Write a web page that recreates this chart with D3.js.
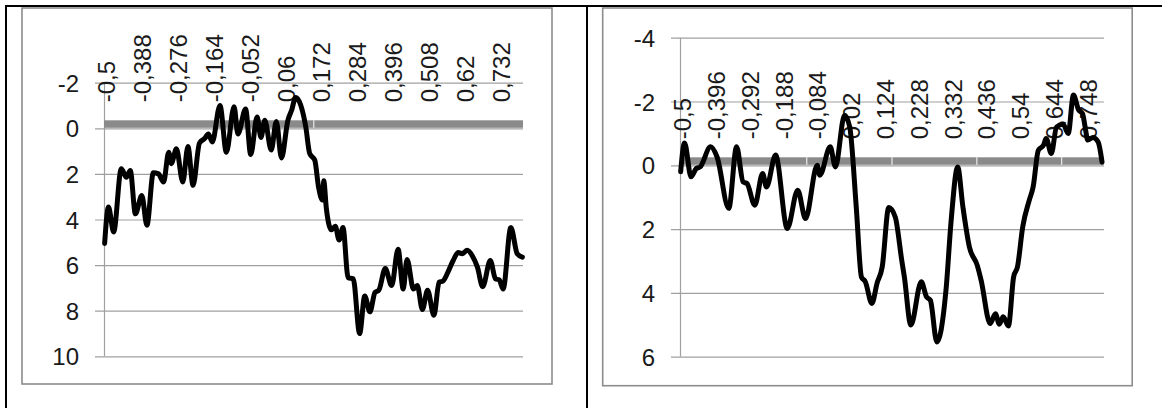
<!DOCTYPE html>
<html>
<head>
<meta charset="utf-8">
<script src="https://cdn.jsdelivr.net/npm/d3@7"></script>
<style>
  html, body { margin: 0; padding: 0; background: #fff; }
  svg { display: block; }
  text { font-family: "Liberation Sans", Arial, sans-serif; fill: #1a1a1a; }
</style>
</head>
<body>
<svg id="chart" width="1162" height="408"></svg>
<script>
// ---- Left series ----
const leftX = [-0.5, -0.488, -0.472, -0.448, -0.432, -0.42, -0.404, -0.384, -0.368, -0.348,
  -0.332, -0.316, -0.3, -0.292, -0.276, -0.256, -0.24, -0.224, -0.204, -0.188,
  -0.176, -0.164, -0.14, -0.12, -0.096, -0.084, -0.06, -0.044, -0.024, -0.012,
  0.0, 0.02, 0.036, 0.052, 0.072, 0.084, 0.096, 0.128, 0.14, 0.156,
  0.168, 0.18, 0.184, 0.192, 0.208, 0.22, 0.232, 0.244, 0.26, 0.276,
  0.296, 0.312, 0.328, 0.344, 0.356, 0.376, 0.396, 0.416, 0.432, 0.444,
  0.464, 0.476, 0.492, 0.508, 0.528, 0.544, 0.556, 0.572, 0.588, 0.604,
  0.616, 0.632, 0.648, 0.664, 0.68, 0.704, 0.72, 0.732, 0.744, 0.768,
  0.788, 0.804];
const leftY = [5.05, 3.45, 4.55, 1.77, 2.15, 1.85, 3.75, 2.95, 4.25, 1.95,
  2.0, 2.35, 1.05, 1.55, 0.9, 2.35, 0.8, 2.5, 0.65, 0.45,
  0.25, 0.6, -1.0, 1.05, -0.95, 0.25, -0.85, 1.15, -0.5, 0.4,
  -0.35, 0.95, -0.3, 1.3, -0.35, -0.8, -1.35, -0.05, 1.1, 1.4,
  2.6, 3.15, 2.3, 3.5, 4.45, 4.3, 4.9, 4.35, 6.55, 6.6,
  9.0, 7.35, 8.05, 7.2, 7.1, 6.15, 6.9, 5.3, 7.05, 5.75,
  7.05, 6.9, 7.95, 7.1, 8.2, 6.75, 6.7, 6.3, 5.8, 5.45,
  5.5, 5.35, 5.6, 6.1, 6.95, 5.8, 6.6, 6.65, 7.05, 4.35,
  5.5, 5.65];
const leftTickValues = [-0.5, -0.388, -0.276, -0.164, -0.052, 0.06, 0.172, 0.284, 0.396, 0.508, 0.62, 0.732];
const leftTickLabels = ["-0,5", "-0,388", "-0,276", "-0,164", "-0,052", "0,06", "0,172", "0,284", "0,396", "0,508", "0,62", "0,732"];
const leftYTicks = [-2, 0, 2, 4, 6, 8, 10];
const leftAxisMarks = [0.153];

// ---- Right series ----
const rightX = [-0.5, -0.488, -0.468, -0.452, -0.44, -0.408, -0.388, -0.352, -0.328, -0.308,
  -0.296, -0.272, -0.248, -0.236, -0.208, -0.172, -0.14, -0.116, -0.08, -0.072,
  -0.04, -0.024, 0.004, 0.02, 0.04, 0.056, 0.068, 0.088, 0.104, 0.12,
  0.14, 0.16, 0.18, 0.188, 0.208, 0.24, 0.256, 0.268, 0.288, 0.316,
  0.332, 0.352, 0.368, 0.388, 0.412, 0.424, 0.452, 0.468, 0.48, 0.492,
  0.508, 0.524, 0.536, 0.552, 0.572, 0.584, 0.6, 0.616, 0.624, 0.64,
  0.656, 0.676, 0.692, 0.708, 0.724, 0.736, 0.744, 0.752, 0.768, 0.784,
  0.796];
const rightY = [0.2, -0.7, 0.36, 0.1, 0.05, -0.58, -0.26, 1.35, -0.58, 0.52,
  0.57, 1.25, 0.26, 0.68, -0.32, 1.98, 0.78, 1.67, 0.0, 0.31,
  -0.58, 0.05, -1.57, -1.2, 1.3, 3.5, 3.65, 4.33, 3.7, 3.18,
  1.32, 1.62, 2.98, 3.5, 5.01, 3.65, 4.12, 4.23, 5.54, 3.92,
  1.72, 0.05, 1.3, 2.56, 3.13, 3.6, 4.96, 4.65, 4.98, 4.75,
  5.04, 3.5, 3.18, 1.93, 1.1, 0.68, -0.47, -0.63, -0.84, -0.37,
  -1.2, -1.29, -1.0, -2.2, -1.73, -1.62, -1.2, -0.79, -0.87, -0.73,
  -0.1];
const rightTickValues = [-0.5, -0.396, -0.292, -0.188, -0.084, 0.02, 0.124, 0.228, 0.332, 0.436, 0.54, 0.644, 0.748];
const rightTickLabels = ["-0,5", "-0,396", "-0,292", "-0,188", "-0,084", "0,02", "0,124", "0,228", "0,332", "0,436", "0,54", "0,644", "0,748"];
const rightYTicks = [-4, -2, 0, 2, 4, 6];
const rightAxisMarks = [-0.112, 0.15, 0.411, 0.672];

const svg = d3.select("#chart");

// Table frame around both charts
const frame = svg.append("g").attr("stroke", "#000").attr("stroke-width", 2);
frame.append("line").attr("x1", 5).attr("x2", 1162).attr("y1", 6).attr("y2", 6);
frame.append("line").attr("x1", 6).attr("x2", 6).attr("y1", 5).attr("y2", 408);
frame.append("line").attr("x1", 587).attr("x2", 587).attr("y1", 5).attr("y2", 408);

function drawPanel(p) {
  const g = svg.append("g");

  // chart area border
  g.append("rect")
    .attr("x", p.box[0]).attr("y", p.box[1])
    .attr("width", p.box[2]).attr("height", p.box[3])
    .attr("fill", "#fff").attr("stroke", "#8c8c8c").attr("stroke-width", 1.6);

  const x = d3.scaleLinear().domain(p.xDomain).range([p.plot.x0, p.plot.x1]);
  const y = d3.scaleLinear().domain(p.yDomain).range([p.plot.y0, p.plot.y1]);

  // gridlines with tick stubs, and value labels via a left axis
  const yAxis = d3.axisLeft(y)
    .tickValues(p.yTicks)
    .tickSize(-(p.plot.x1 - p.plot.x0))
    .tickPadding(0)
    .tickFormat(d => String(d));
  const ya = g.append("g").attr("transform", `translate(${p.plot.x0},0)`).call(yAxis);
  ya.select(".domain").attr("stroke", "#a0a0a0").attr("stroke-width", 1.2)
    .attr("d", `M0.5,${p.plot.y0}V${p.plot.y1}`);
  ya.selectAll(".tick line")
    .attr("stroke", "#a0a0a0").attr("stroke-width", 1.2)
    .attr("x1", -9);
  ya.selectAll(".tick text")
    .attr("x", -25)
    .attr("dy", null)
    .attr("dominant-baseline", "central")
    .style("font-size", "24px")
    .style("font-family", "'Liberation Sans', Arial, sans-serif")
    .attr("fill", "#1a1a1a");

  // thick category axis line through zero
  const y0 = y(0);
  g.append("rect")
    .attr("x", p.plot.x0).attr("y", y0 - 8)
    .attr("width", p.plot.x1 - p.plot.x0).attr("height", 7.5)
    .attr("fill", "#8a8a8a");
  g.selectAll(".mark").data(p.marks).join("line")
    .attr("x1", d => x(d)).attr("x2", d => x(d))
    .attr("y1", y0 - 8).attr("y2", y0 - 0.5)
    .attr("stroke", "#fff").attr("stroke-width", 1);

  // rotated category labels above the axis
  g.selectAll(".xlab").data(p.xTicks).join("text")
    .attr("transform", (d, i) => `translate(${x(d) + 2},${y0 - 26}) rotate(-90)`)
    .attr("text-anchor", "start")
    .attr("dominant-baseline", "central")
    .style("font-size", "24px")
    .text((d, i) => p.xLabels[i]);

  // series line
  const line = d3.line()
    .x((d, i) => x(p.xs[i]))
    .y(d => y(d))
    .curve(d3.curveMonotoneX);
  g.append("path")
    .attr("d", line(p.ys))
    .attr("fill", "none")
    .attr("stroke", "#000")
    .attr("stroke-width", 5)
    .attr("stroke-linejoin", "round")
    .attr("stroke-linecap", "round");
}

drawPanel({
  box: [22, 8, 530, 376],
  plot: { x0: 104, x1: 523, y0: 82.7, y1: 356.3 },
  xDomain: [-0.502, 0.806], yDomain: [-2, 10],
  xs: leftX, ys: leftY,
  xTicks: leftTickValues, xLabels: leftTickLabels,
  yTicks: leftYTicks, marks: leftAxisMarks
});

drawPanel({
  box: [602.7, 8, 529.5, 377.7],
  plot: { x0: 680, x1: 1104, y0: 37.7, y1: 356.7 },
  xDomain: [-0.502, 0.802], yDomain: [-4, 6],
  xs: rightX, ys: rightY,
  xTicks: rightTickValues, xLabels: rightTickLabels,
  yTicks: rightYTicks, marks: rightAxisMarks
});
</script>
</body>
</html>
